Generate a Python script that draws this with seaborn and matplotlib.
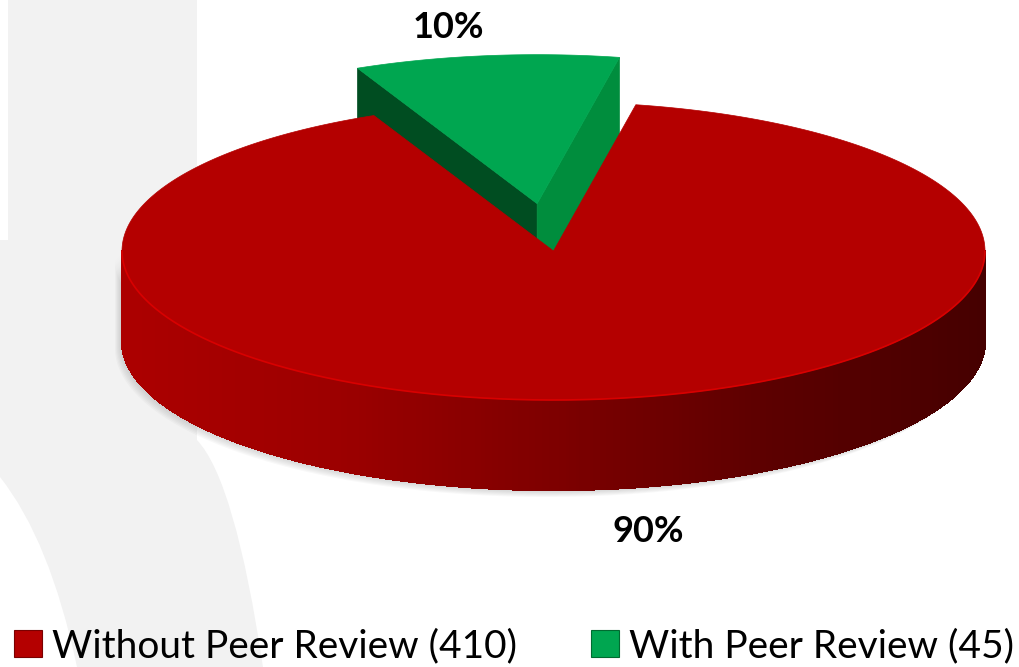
import numpy as np
import matplotlib
matplotlib.use("Agg")
import matplotlib.pyplot as plt
import seaborn as sns
from matplotlib.patches import Polygon, Patch, PathPatch
from matplotlib.path import Path
from matplotlib.collections import PolyCollection

# data
categories = ["Without Peer Review", "With Peer Review"]
counts = [410, 45]
top_colors = ["#B40000", "#00A650"]
cut_colors = ["#8A0000", "#004D21", "#008D3D"]   # red (unused), green left / right cut faces

sns.set_theme(style="white")
plt.rcParams["font.family"] = ["Lato", "DejaVu Sans"]

# layout of the fake 3d pie, in pixel units
W, H = 1020, 667
cx, cy = 553.5, 251.0
ra, rb = 431.5, 149.0
depth = 90.0
start_deg = 79.0          # green slice starts here, counter clockwise
explode = [0.0, 0.32]


def pt(theta_deg, r=1.0, off=(0.0, 0.0)):
    t = np.radians(theta_deg)
    return (cx + off[0] + r * ra * np.cos(t), cy + off[1] - r * rb * np.sin(t))


fig = plt.figure(figsize=(W / 100, H / 100), dpi=100)
ax = fig.add_axes([0, 0, 1, 1])
ax.set_xlim(0, W)
ax.set_ylim(H, 0)
ax.axis("off")

# faint watermark shape in the background
verts = [(8, 0), (197, 0), (197, 440), (235, 480), (263, 667), (77, 667),
         (50, 540), (0, 477), (0, 240), (8, 240), (8, 0)]
codes = [Path.MOVETO, Path.LINETO, Path.LINETO, Path.CURVE3, Path.CURVE3,
         Path.LINETO, Path.CURVE3, Path.CURVE3, Path.LINETO, Path.LINETO,
         Path.CLOSEPOLY]
ax.add_patch(PathPatch(Path(verts, codes), facecolor="#F2F2F2", edgecolor="none", zorder=0))

total = sum(counts)
fracs = [c / total for c in counts]
green_span = fracs[1] * 360
g0, g1 = start_deg, start_deg + green_span
r0, r1 = g1, start_deg + 360

# green slice (exploded towards the back)
mid = np.radians((g0 + g1) / 2)
goff = (explode[1] * ra * np.cos(mid), -explode[1] * rb * np.sin(mid))
apex = (cx + goff[0], cy + goff[1])
for ang, col in [(g1, cut_colors[1]), (g0, cut_colors[2])]:
    p = pt(ang, off=goff)
    face = [apex, p, (p[0], p[1] + depth), (apex[0], apex[1] + depth)]
    ax.add_patch(Polygon(face, closed=True, facecolor=col, edgecolor=col, lw=0.5, zorder=2))
arc = np.linspace(g0, g1, 60)
gtop = [apex] + [pt(a, off=goff) for a in arc]
ax.add_patch(Polygon(gtop, closed=True, facecolor=top_colors[1], edgecolor=top_colors[1], lw=0.5, zorder=3))

# red slice: soft shadow, front wall with gradient, then top face
angs = np.linspace(180, 360, 401)
outer = np.array([pt(a) for a in angs])
wall = np.vstack([outer, (outer + [0, depth])[::-1]])
for k in range(6):
    ax.add_patch(Polygon(wall + [-2 - k, 2 + k], closed=True, facecolor="#808080",
                         edgecolor="none", alpha=0.05, zorder=3))

grad = sns.blend_palette(["#AC0000", "#9C0000", "#7E0000", "#5C0000", "#460000"], 400)
strips = []
cols = []
for i in range(len(angs) - 1):
    a, b = outer[i], outer[i + 1]
    strips.append([a, b, (b[0], b[1] + depth), (a[0], a[1] + depth)])
    xn = (0.5 * (a[0] + b[0]) - (cx - ra)) / (2 * ra)
    cols.append(grad[min(int(xn * 399), 399)])
ax.add_collection(PolyCollection(strips, facecolors=cols, edgecolors=cols, lw=1.0,
                                 antialiaseds=False, zorder=4))
# smooth outline of the wall so the edges stay antialiased
ax.add_patch(Polygon(wall, closed=True, facecolor="none", edgecolor="none", zorder=4))

arc = np.linspace(r0, r1, 400)
rtop = [(cx, cy)] + [pt(a) for a in arc]
ax.add_patch(Polygon(rtop, closed=True, facecolor=top_colors[0], edgecolor=top_colors[0], lw=0.5, zorder=5))
ax.plot(outer[:, 0], outer[:, 1], color="#D80000", lw=1.2, zorder=6)

# percent labels
label_xy = [(648, 531), (448, 28)]
for f, (lx, ly) in zip(fracs, label_xy):
    ax.text(lx, ly, f"{f * 100:.0f}%", ha="center", va="center",
            fontsize=26, fontweight="bold", color="black", zorder=7)

handles = [Patch(facecolor=top_colors[0], edgecolor="#7A0000", lw=0.8),
           Patch(facecolor=top_colors[1], edgecolor="#006B30", lw=0.8)]
labels = [f"{c} ({n})" for c, n in zip(categories, counts)]
fig.legend(handles, labels, loc="lower left", bbox_to_anchor=(0.014, 0.004),
           ncol=2, frameon=False, fontsize=28, handlelength=0.7, handleheight=0.7,
           handletextpad=0.28, columnspacing=1.9, borderpad=0, borderaxespad=0,
           labelcolor="black")

fig.savefig("out.png", dpi=100)
